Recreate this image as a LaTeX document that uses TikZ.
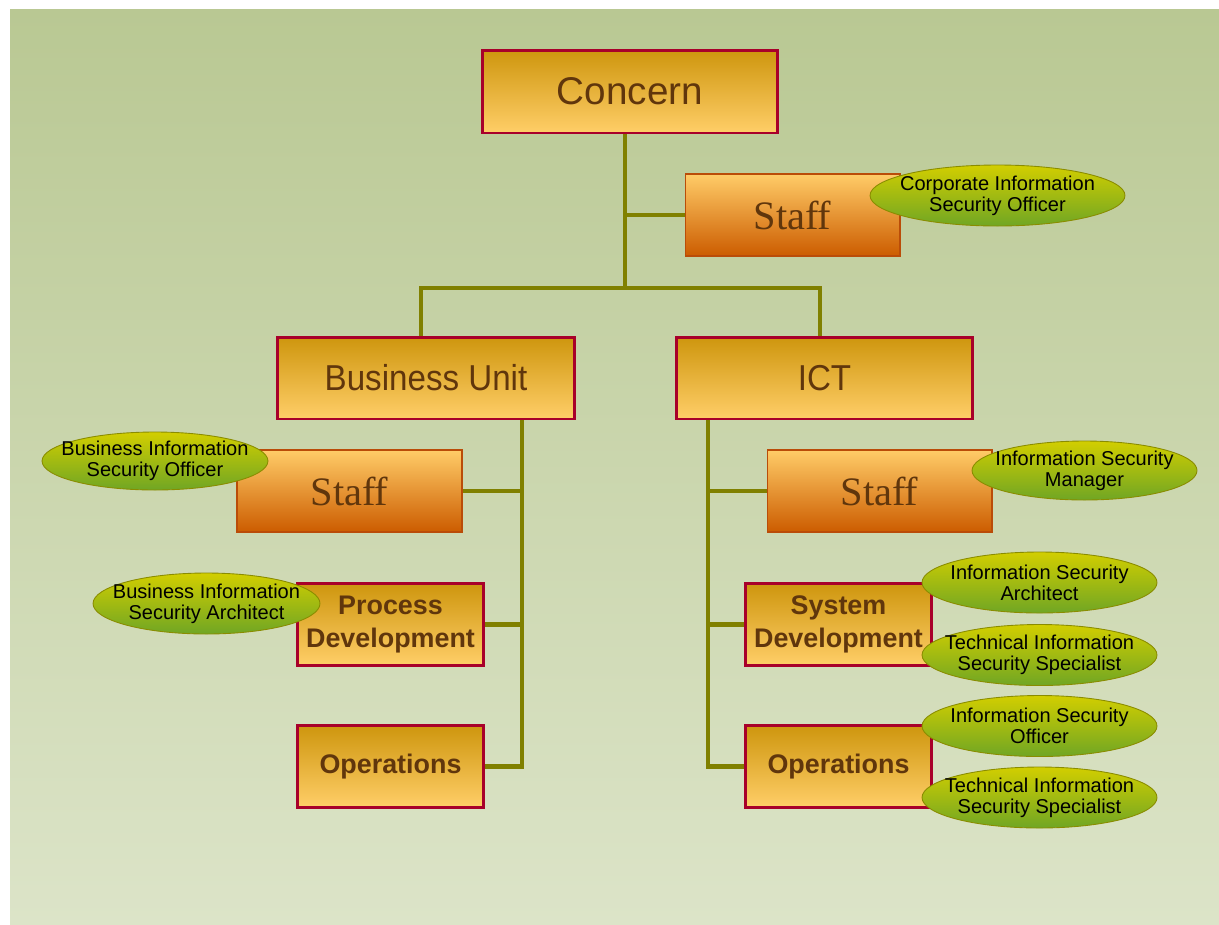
\documentclass[tikz,border=0pt]{standalone}
\usepackage{fontspec}
\setmainfont{Liberation Sans}
\newfontfamily\staffserif{Liberation Serif}
\newfontfamily\unitsans[FakeStretch=0.92]{Liberation Sans}
\usetikzlibrary{positioning, shapes.geometric}

\definecolor{bgtop}{RGB}{185,200,147}
\definecolor{bgbot}{RGB}{220,228,200}
\definecolor{boxred}{RGB}{168,0,42}
\definecolor{goldtop}{RGB}{206,150,14}
\definecolor{goldbot}{RGB}{255,206,104}
\definecolor{stafftop}{RGB}{255,204,104}
\definecolor{staffbot}{RGB}{204,92,0}
\definecolor{staffline}{RGB}{186,76,8}
\definecolor{bubtop}{RGB}{210,206,0}
\definecolor{bubbot}{RGB}{112,166,36}
\definecolor{bubline}{RGB}{138,140,0}
\definecolor{linkolive}{RGB}{128,128,0}
\definecolor{txtbrown}{RGB}{96,54,12}

\begin{document}
\begin{tikzpicture}[x=0.02cm, y=-0.02cm,
    every node/.style={inner sep=1pt, align=center},
    unitbox/.style={draw=boxred, line width=1.7pt, top color=goldtop, bottom color=goldbot,
        text=txtbrown, minimum width=5.94cm, minimum height=1.64cm,
        font=\unitsans\fontsize{20.5}{24}\selectfont},
    subbox/.style={unitbox, minimum width=3.72cm, minimum height=1.64cm,
        font=\bfseries\fontsize{15.3}{19}\selectfont},
    staffbox/.style={draw=staffline, line width=0.6pt, top color=stafftop, bottom color=staffbot,
        text=txtbrown, minimum width=4.5cm, minimum height=1.64cm,
        font=\staffserif\fontsize{23}{23}\selectfont},
    bubble/.style={ellipse, draw=bubline, line width=0.5pt, top color=bubtop, bottom color=bubbot,
        inner sep=0pt, minimum width=4.7cm, minimum height=1.22cm},
    bubtext/.style={align=center, text=black, inner sep=0pt, font=\fontsize{11.4}{11.8}\selectfont},
    link/.style={draw=linkolive, line width=2.8pt}]

    % 0. background
    \useasboundingbox (0,0) rectangle (1219,924);
    \fill[white] (0,0) rectangle (1219,924);
    \fill[top color=bgtop, bottom color=bgbot] (10,9) rectangle (1219,924);

    % 1. top of the tree
    \node[unitbox, minimum width=5.92cm, minimum height=1.66cm,
        font=\fontsize{22}{24}\selectfont] (concern) at (630,91.5) {Concern};
    \node[staffbox, minimum width=4.3cm] (staff0) at (792.5,215) {Staff};
    \node[unitbox] (bu)  at (426,378)   {Business Unit};
    \node[unitbox] (ict) at (824.5,378) {ICT};

    % 2. business unit side
    \node[staffbox] (bustaff) at (349.5,491) {Staff};
    \node[subbox] (procdev) at (390.5,624.5) {Process\\Development};
    \node[subbox] (buops)   at (390.5,766.5) {Operations};

    % 3. ICT side
    \node[staffbox] (ictstaff) at (879.5,491) {Staff};
    \node[subbox] (sysdev) at (838.5,624.5) {System\\Development};
    \node[subbox] (ictops) at (838.5,766.5) {Operations};

    % 4. connectors
    \coordinate (hub) at (625,288);
    \coordinate (bspine) at (522,0);
    \coordinate (ispine) at (708,0);
    \draw[link] (hub |- concern.south) -- (hub);
    \draw[link] (hub |- staff0.west) -- (staff0.west);
    \draw[link] ([xshift=-0.1cm]bu.north) |- (hub) -| ([xshift=-0.09cm]ict.north);
    \draw[link] (bu.south -| bspine) |- (buops.east);
    \draw[link] (bspine |- bustaff.east) -- (bustaff.east);
    \draw[link] (bspine |- procdev.east) -- (procdev.east);
    \draw[link] (ict.south -| ispine) |- (ictops.west);
    \draw[link] (ispine |- ictstaff.west) -- (ictstaff.west);
    \draw[link] (ispine |- sysdev.west) -- (sysdev.west);

    % 5. security roles (ellipses on top of the boxes)
    \node[bubble, minimum width=5.1cm, label={[bubtext]center:Corporate Information\\Security Officer}]
        (ciso) at (997.5,195.5) {};
    \node[bubble, minimum width=4.52cm, minimum height=1.16cm,
        label={[bubtext]center:Business Information\\Security Officer}] (biso) at (155,461) {};
    \node[bubble, minimum width=4.54cm, label={[bubtext]center:Business Information\\Security Architect}]
        (bisa) at (206.5,603.5) {};
    \node[bubble, minimum width=4.5cm, minimum height=1.18cm,
        label={[bubtext]center:Information Security\\Manager}] (ism) at (1084.5,470.5) {};
    \foreach \n/\y/\t in {isa/582.5/{Information Security\\Architect},
                          tiss/655/{Technical Information\\Security Specialist},
                          iso/726/{Information Security\\Officer},
                          tisstwo/797.5/{Technical Information\\Security Specialist}} {
        \node[bubble, label={[bubtext]center:\t}] (\n) at (1039.5,\y) {};
    }

\end{tikzpicture}
\end{document}
